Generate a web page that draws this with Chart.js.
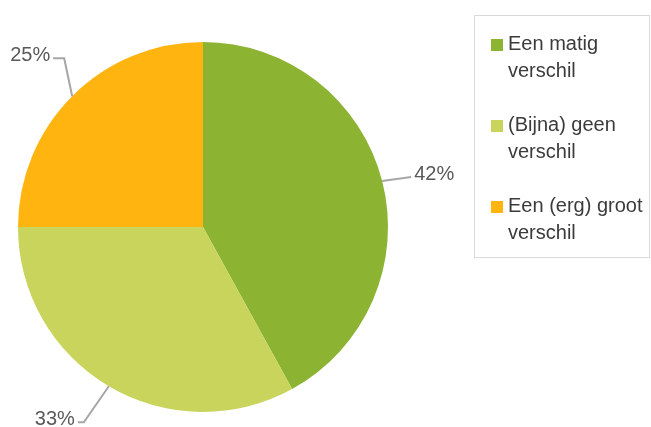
<!DOCTYPE html>
<html><head><meta charset="utf-8">
<script src="https://cdn.jsdelivr.net/npm/chart.js@4"></script>
<style>
html,body{margin:0;padding:0;background:#fff;}
#wrap{position:relative;width:651px;height:427px;}
#legend{position:absolute;left:474px;top:15px;width:176px;height:243px;border:1px solid #d9d9d9;box-sizing:border-box;font-family:"Liberation Sans",Arial,sans-serif;font-size:20px;color:#3b3b3b;}
.item{position:absolute;left:16px;line-height:27px;white-space:nowrap;}
.sw{position:absolute;left:0;top:9px;width:12px;height:12px;}
.tx{margin-left:17px;}
</style></head>
<body><div id="wrap"><canvas id="c" width="651" height="427"></canvas><div id="legend"></div></div>
<script>
const categories = ["Een matig verschil", "(Bijna) geen verschil", "Een (erg) groot verschil"];
const legendLines = [["Een matig", "verschil"], ["(Bijna) geen", "verschil"], ["Een (erg) groot", "verschil"]];
const values = [42, 33, 25];
const valueLabels = ["42%", "33%", "25%"];
const colors = ["#8db332", "#c8d45c", "#ffb40f"];

// leader line layout: offset from edge to elbow, horizontal stub length, side
const leaders = [
  {dx: 29, dy: -4, stub: 0, side: 1},
  {dx: -25, dy: 36, stub: 6, side: -1},
  {dx: -8, dy: -38, stub: 11, side: -1}
];

const leaderPlugin = {
  id: 'leaders',
  afterDatasetsDraw(chart) {
    const ctx = chart.ctx;
    const meta = chart.getDatasetMeta(0);
    meta.data.forEach((arc, i) => {
      const mid = (arc.startAngle + arc.endAngle) / 2;
      const ex = arc.x + Math.cos(mid) * arc.outerRadius;
      const ey = arc.y + Math.sin(mid) * arc.outerRadius;
      const L = leaders[i];
      const bx = ex + L.dx, by = ey + L.dy;
      const cx = bx + L.side * L.stub;
      ctx.save();
      ctx.strokeStyle = '#a6a6a6';
      ctx.lineWidth = 2;
      ctx.beginPath();
      ctx.moveTo(ex, ey); ctx.lineTo(bx, by); ctx.lineTo(cx, by);
      ctx.stroke();
      ctx.fillStyle = '#595959';
      ctx.font = '20px "Liberation Sans", Arial, sans-serif';
      ctx.textBaseline = 'middle';
      ctx.textAlign = L.side > 0 ? 'left' : 'right';
      ctx.fillText(valueLabels[i], cx + L.side * 3, by - 3);
      ctx.restore();
    });
  }
};

new Chart(document.getElementById('c'), {
  type: 'pie',
  data: {labels: categories, datasets: [{data: values, backgroundColor: colors, borderWidth: 0}]},
  options: {
    responsive: false, animation: false,
    layout: {padding: {left: 18, right: 263, top: 42, bottom: 15}},
    plugins: {legend: {display: false}, tooltip: {enabled: false}}
  },
  plugins: [leaderPlugin]
});

const lg = document.getElementById('legend');
legendLines.forEach((lines, i) => {
  const d = document.createElement('div');
  d.className = 'item';
  d.style.top = (14 + i * 81) + 'px';
  d.innerHTML = '<div class="sw" style="background:' + colors[i] + '"></div><div class="tx">' + lines.join('<br>') + '</div>';
  lg.appendChild(d);
});
</script></body></html>
